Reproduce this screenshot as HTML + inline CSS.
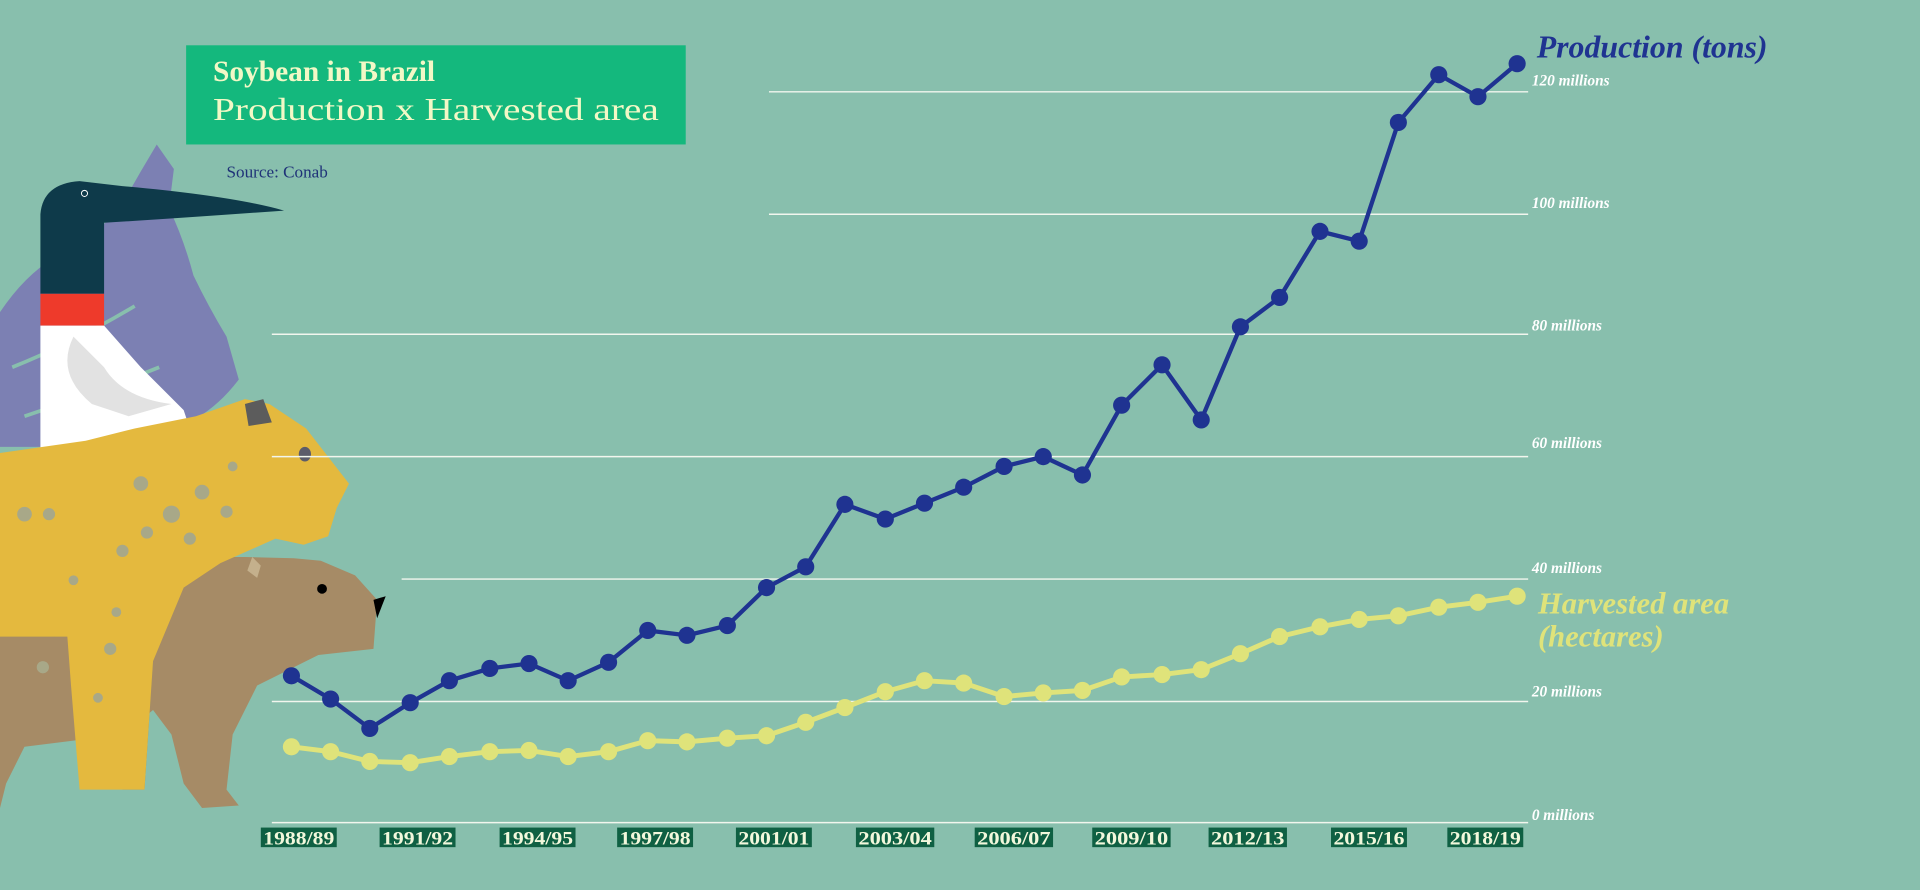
<!DOCTYPE html>
<html><head><meta charset="utf-8"><style>
html,body{margin:0;padding:0;background:#88bfad;}
svg{display:block}
</style></head><body>
<svg width="1920" height="890" viewBox="0 0 1568 727" preserveAspectRatio="none" xmlns="http://www.w3.org/2000/svg">
<rect width="1568" height="727" fill="#88bfad"/>
<!-- leaf -->
<path d="M0,255 Q20,225 45,210 Q70,195 95,175 L115,140 L128,118 L142,138 L138,170 Q150,195 158,225 Q170,250 185,275 L195,310 Q180,330 160,342 Q120,358 60,365 L0,365 Z" fill="#7c80b3"/>
<path d="M10,300 Q60,280 110,250 M20,340 Q80,320 130,300" stroke="#88bfad" stroke-width="3" fill="none"/>
<!-- toucan -->
<path d="M33,240 L33,175 Q35,150 65,148 L100,152 Q190,160 232,172 Q150,178 85,182 L85,240 Z" fill="#0e3a4a"/>
<rect x="33" y="240" width="52" height="26" fill="#ee3a2b"/>
<path d="M33,266 L85,266 L115,300 L150,335 L160,365 L33,370 Z" fill="#ffffff"/>
<path d="M60,275 Q45,305 75,330 L105,340 L140,330 Q100,325 85,300 Z" fill="#e2e2e2"/>
<circle cx="69" cy="158" r="2.5" fill="none" stroke="#fff" stroke-width="0.8"/>
<!-- capybara -->
<path d="M0,470 L100,460 L130,455 L200,455 L240,456 L262,458 L290,470 L308,490 L305,530 L260,535 L210,560 L190,600 L185,645 L195,658 L165,660 L150,640 L140,600 L125,580 L100,600 L20,610 L5,640 L0,660 Z" fill="#a68b66"/>
<path d="M0,475 L55,478 L45,520 L0,518 Z" fill="#8a8a6c"/>
<path d="M120,470 L140,465 L125,540 L118,645 L100,645 L102,550 Z" fill="#8a8a6c"/>
<circle cx="263" cy="481" r="4" fill="#000"/>
<path d="M305,490 L315,487 L308,505 Z" fill="#000"/>
<path d="M206,455 L213,462 L210,472 L202,466 Z" fill="#c4b08c"/>
<!-- jaguar -->
<path d="M0,370 L70,360 L110,350 L160,340 L200,326 L220,330 L250,350 L285,395 L275,415 L268,438 L248,445 L225,440 L180,460 L150,480 L125,540 L118,645 L65,645 L58,560 L55,520 L0,520 Z" fill="#e4b93e"/>
<path d="M200,330 L215,326 L222,345 L203,348 Z" fill="#5c5c5c"/>
<ellipse cx="249" cy="371" rx="5" ry="6" fill="#5c5c6a"/>
<g fill="#a8a888">
<circle cx="115" cy="395" r="6"/><circle cx="140" cy="420" r="7"/><circle cx="165" cy="402" r="6"/><circle cx="120" cy="435" r="5"/><circle cx="100" cy="450" r="5"/><circle cx="155" cy="440" r="5"/><circle cx="20" cy="420" r="6"/><circle cx="40" cy="420" r="5"/><circle cx="35" cy="545" r="5"/><circle cx="95" cy="500" r="4"/><circle cx="90" cy="530" r="5"/><circle cx="80" cy="570" r="4"/><circle cx="185" cy="418" r="5"/><circle cx="190" cy="381" r="4"/><circle cx="60" cy="474" r="4"/>
</g>
<!-- title -->
<rect x="152" y="37" width="408" height="81" fill="#14b87d"/>
<text x="174" y="66" font-family="Liberation Serif, serif" font-weight="bold" font-size="24" fill="#f2f8c6">Soybean in Brazil</text>
<text x="174" y="98" font-family="Liberation Serif, serif" font-size="26" fill="#f2f8c6" textLength="364" lengthAdjust="spacingAndGlyphs">Production x Harvested area</text>
<text x="185" y="145" font-family="Liberation Serif, serif" font-size="14" fill="#1f3278">Source: Conab</text>
<!-- gridlines -->
<g stroke="#f2f6ee" stroke-width="1.2">
<line x1="222" y1="672" x2="1248" y2="672"/>
<line x1="222" y1="573" x2="1248" y2="573"/>
<line x1="328" y1="473" x2="1248" y2="473"/>
<line x1="222" y1="373" x2="1248" y2="373"/>
<line x1="222" y1="273" x2="1248" y2="273"/>
<line x1="628" y1="175" x2="1248" y2="175"/>
<line x1="628" y1="75" x2="1248" y2="75"/>
</g>
<g font-family="Liberation Serif, serif" font-style="italic" font-weight="bold" font-size="12.5" fill="#ffffff">
<text x="1251" y="70">120 millions</text>
<text x="1251" y="170">100 millions</text>
<text x="1251" y="270">80 millions</text>
<text x="1251" y="366">60 millions</text>
<text x="1251" y="468">40 millions</text>
<text x="1251" y="569">20 millions</text>
<text x="1251" y="670">0 millions</text>
</g>
<text x="1255" y="47" font-family="Liberation Serif, serif" font-style="italic" font-weight="bold" font-size="26" fill="#1f3391">Production (tons)</text>
<text x="1256" y="501" font-family="Liberation Serif, serif" font-style="italic" font-weight="bold" font-size="25" fill="#dfe37a">Harvested area</text>
<text x="1256" y="528" font-family="Liberation Serif, serif" font-style="italic" font-weight="bold" font-size="25" fill="#dfe37a">(hectares)</text>
<!-- harvested -->
<g fill="#dfe37a" stroke="none">
<polyline fill="none" stroke="#dfe37a" stroke-width="4" points="238,610 270,614 302,622 335,623 367,618 400,614 432,613 464,618 497,614 529,605 561,606 594,603 626,601 658,590 690,578 723,565 755,556 787,558 820,569 852,566 884,564 916,553 949,551 981,547 1013,534 1045,520 1078,512 1110,506 1142,503 1175,496 1207,492 1239,487"/>
<circle cx="238" cy="610" r="7"/><circle cx="270" cy="614" r="7"/><circle cx="302" cy="622" r="7"/><circle cx="335" cy="623" r="7"/><circle cx="367" cy="618" r="7"/><circle cx="400" cy="614" r="7"/><circle cx="432" cy="613" r="7"/><circle cx="464" cy="618" r="7"/><circle cx="497" cy="614" r="7"/><circle cx="529" cy="605" r="7"/><circle cx="561" cy="606" r="7"/><circle cx="594" cy="603" r="7"/><circle cx="626" cy="601" r="7"/><circle cx="658" cy="590" r="7"/><circle cx="690" cy="578" r="7"/><circle cx="723" cy="565" r="7"/><circle cx="755" cy="556" r="7"/><circle cx="787" cy="558" r="7"/><circle cx="820" cy="569" r="7"/><circle cx="852" cy="566" r="7"/><circle cx="884" cy="564" r="7"/><circle cx="916" cy="553" r="7"/><circle cx="949" cy="551" r="7"/><circle cx="981" cy="547" r="7"/><circle cx="1013" cy="534" r="7"/><circle cx="1045" cy="520" r="7"/><circle cx="1078" cy="512" r="7"/><circle cx="1110" cy="506" r="7"/><circle cx="1142" cy="503" r="7"/><circle cx="1175" cy="496" r="7"/><circle cx="1207" cy="492" r="7"/><circle cx="1239" cy="487" r="7"/>
</g>
<!-- production -->
<g fill="#1f3391">
<polyline fill="none" stroke="#1f3391" stroke-width="3.5" points="238,552 270,571 302,595 335,574 367,556 400,546 432,542 464,556 497,541 529,515 561,519 594,511 626,480 658,463 690,412 723,424 755,411 787,398 820,381 852,373 884,388 916,331 949,298 981,343 1013,267 1045,243 1078,189 1110,197 1142,100 1175,61 1207,79 1239,52"/>
<circle cx="238" cy="552" r="7"/><circle cx="270" cy="571" r="7"/><circle cx="302" cy="595" r="7"/><circle cx="335" cy="574" r="7"/><circle cx="367" cy="556" r="7"/><circle cx="400" cy="546" r="7"/><circle cx="432" cy="542" r="7"/><circle cx="464" cy="556" r="7"/><circle cx="497" cy="541" r="7"/><circle cx="529" cy="515" r="7"/><circle cx="561" cy="519" r="7"/><circle cx="594" cy="511" r="7"/><circle cx="626" cy="480" r="7"/><circle cx="658" cy="463" r="7"/><circle cx="690" cy="412" r="7"/><circle cx="723" cy="424" r="7"/><circle cx="755" cy="411" r="7"/><circle cx="787" cy="398" r="7"/><circle cx="820" cy="381" r="7"/><circle cx="852" cy="373" r="7"/><circle cx="884" cy="388" r="7"/><circle cx="916" cy="331" r="7"/><circle cx="949" cy="298" r="7"/><circle cx="981" cy="343" r="7"/><circle cx="1013" cy="267" r="7"/><circle cx="1045" cy="243" r="7"/><circle cx="1078" cy="189" r="7"/><circle cx="1110" cy="197" r="7"/><circle cx="1142" cy="100" r="7"/><circle cx="1175" cy="61" r="7"/><circle cx="1207" cy="79" r="7"/><circle cx="1239" cy="52" r="7"/>
</g>
<!-- x labels -->
<g fill="#0f6043">
<rect x="213" y="676" width="62" height="16"/><rect x="310" y="676" width="62" height="16"/><rect x="408" y="676" width="62" height="16"/><rect x="504" y="676" width="62" height="16"/><rect x="601" y="676" width="62" height="16"/><rect x="699" y="676" width="64" height="16"/><rect x="796" y="676" width="64" height="16"/><rect x="892" y="676" width="64" height="16"/><rect x="987" y="676" width="64" height="16"/><rect x="1087" y="676" width="62" height="16"/><rect x="1182" y="676" width="62" height="16"/>
</g>
<g font-family="Liberation Serif, serif" font-weight="bold" font-size="15.5" fill="#f2f8dc">
<text x="215" y="690" textLength="58" lengthAdjust="spacingAndGlyphs">1988/89</text>
<text x="312" y="690" textLength="58" lengthAdjust="spacingAndGlyphs">1991/92</text>
<text x="410" y="690" textLength="58" lengthAdjust="spacingAndGlyphs">1994/95</text>
<text x="506" y="690" textLength="58" lengthAdjust="spacingAndGlyphs">1997/98</text>
<text x="603" y="690" textLength="58" lengthAdjust="spacingAndGlyphs">2001/01</text>
<text x="701" y="690" textLength="60" lengthAdjust="spacingAndGlyphs">2003/04</text>
<text x="798" y="690" textLength="60" lengthAdjust="spacingAndGlyphs">2006/07</text>
<text x="894" y="690" textLength="60" lengthAdjust="spacingAndGlyphs">2009/10</text>
<text x="989" y="690" textLength="60" lengthAdjust="spacingAndGlyphs">2012/13</text>
<text x="1089" y="690" textLength="58" lengthAdjust="spacingAndGlyphs">2015/16</text>
<text x="1184" y="690" textLength="58" lengthAdjust="spacingAndGlyphs">2018/19</text>
</g>
</svg>
</body></html>
